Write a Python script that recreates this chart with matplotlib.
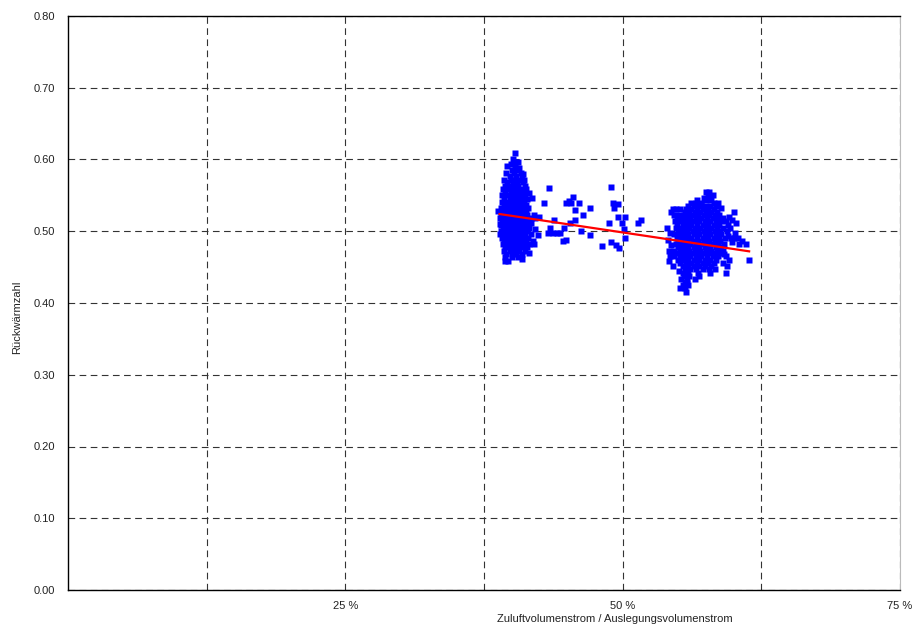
import numpy as np
import matplotlib.pyplot as plt
from matplotlib.ticker import MultipleLocator, FuncFormatter

plt.rcParams['font.family'] = ['Liberation Sans', 'DejaVu Sans']

# Cluster um 40 % (Zeilen: Rückwärmzahl, zugehörige x-Werte in %)
c1_row_y = [0.609, 0.601, 0.597, 0.591, 0.586, 0.581, 0.577, 0.572, 0.568, 0.563,
            0.559, 0.554, 0.550, 0.545, 0.541, 0.536, 0.532, 0.527, 0.523, 0.518,
            0.514, 0.509, 0.505, 0.500, 0.496, 0.491, 0.487, 0.482, 0.478, 0.473,
            0.468, 0.464, 0.459]
c1_row_x = [
    [40.25], [40.1], [40.4, 40.6], [39.6, 40.3], [40.0, 40.5],
    [39.5, 40.2, 40.8], [39.8, 40.4, 40.9], [39.3, 39.9, 40.3, 40.7, 41.1],
    [39.6, 40.1, 40.5, 41.0], [39.4, 39.8, 40.2, 40.6, 41.2],
    [39.2, 39.7, 40.1, 40.5, 40.9, 41.3], [39.4, 39.9, 40.3, 40.7, 41.1],
    [39.1, 39.6, 40.0, 40.4, 40.8, 41.2], [39.3, 39.8, 40.2, 40.6, 41.0, 41.4],
    [39.1, 39.5, 39.9, 40.3, 40.7, 41.1], [39.3, 39.7, 40.1, 40.5, 40.9, 41.3],
    [39.0, 39.5, 39.9, 40.3, 40.7, 41.1, 41.5], [39.2, 39.7, 40.1, 40.5, 40.9, 41.3],
    [39.0, 39.4, 39.8, 40.2, 40.6, 41.0, 41.4, 42.0],
    [38.9, 39.3, 39.7, 40.1, 40.5, 40.9, 41.3, 41.7, 42.1],
    [39.1, 39.5, 39.9, 40.3, 40.7, 41.1, 41.5], [39.0, 39.3, 39.7, 40.1, 40.5, 40.9, 41.3],
    [39.2, 39.6, 40.0, 40.4, 40.8, 41.2, 41.6], [39.0, 39.4, 39.8, 40.2, 40.6, 41.0, 41.4],
    [39.2, 39.6, 40.0, 40.4, 40.8, 41.2, 41.7], [39.1, 39.5, 39.9, 40.3, 40.7, 41.1, 41.5],
    [39.3, 39.7, 40.1, 40.5, 40.9, 41.3, 41.9], [39.2, 39.6, 40.0, 40.4, 40.8, 41.2, 41.6, 42.0],
    [39.4, 39.8, 40.2, 40.6, 41.0, 41.4], [39.3, 39.8, 40.2, 40.7, 41.2],
    [39.5, 40.0, 40.4, 40.9], [39.4, 40.0, 40.6], [39.35],
]
# Randpunkte Cluster 1
c1_extra_x = [38.8, 38.9, 41.6, 41.8, 41.7, 41.6, 39.9, 40.7, 41.0, 39.7, 40.9, 38.9]
c1_extra_y = [0.528, 0.496, 0.553, 0.546, 0.512, 0.470, 0.594, 0.588, 0.580, 0.458, 0.462, 0.510]

# einzelne Punkte zwischen den Clustern
mid_x = [43.32, 48.92, 42.87, 44.85, 45.13, 45.49, 45.31, 46.03, 45.67, 47.02,
         49.10, 49.55, 49.19, 46.39, 49.55, 50.18, 51.35, 51.62, 42.42, 43.77,
         45.22, 45.67, 48.74, 49.91, 43.41, 42.06, 44.67, 46.21, 50.09, 43.23,
         43.68, 44.04, 44.31, 42.33, 47.02, 50.18, 44.58, 44.85, 48.92, 48.10,
         49.64, 49.37]
mid_y = [0.560, 0.562, 0.539, 0.539, 0.542, 0.548, 0.539, 0.539, 0.530, 0.533,
         0.539, 0.538, 0.532, 0.522, 0.520, 0.520, 0.512, 0.516, 0.520, 0.516,
         0.511, 0.516, 0.511, 0.512, 0.505, 0.503, 0.505, 0.500, 0.503, 0.498,
         0.498, 0.498, 0.498, 0.495, 0.495, 0.491, 0.486, 0.488, 0.485, 0.479,
         0.477, 0.481]

# Cluster um 57 %
c2_row_y = [0.555, 0.551, 0.546, 0.544, 0.539, 0.535, 0.531, 0.527, 0.522, 0.518,
            0.514, 0.509, 0.505, 0.500, 0.496, 0.491, 0.487, 0.482, 0.478, 0.473,
            0.469, 0.465, 0.460, 0.456, 0.451, 0.447, 0.442, 0.438, 0.434, 0.429,
            0.425, 0.421, 0.416]
c2_row_x = [
    [57.5, 57.8], [57.7, 58.1], [57.3, 57.9], [57.5, 58.0], [56.6, 57.1, 58.2],
    [55.9, 56.4, 56.9, 57.4, 57.9, 58.4],
    [54.5, 54.8, 55.2, 55.7, 56.2, 56.7, 57.2, 57.7, 58.2],
    [54.4, 55.6, 56.0, 56.5, 57.0, 57.5, 58.0, 58.5, 60.0],
    [54.6, 55.1, 55.5, 55.9, 56.3, 56.8, 57.3, 57.8, 58.3, 58.7],
    [54.9, 55.3, 55.7, 56.1, 56.6, 57.1, 57.6, 58.1, 58.6, 59.0],
    [54.7, 55.2, 55.6, 56.0, 56.4, 56.9, 57.4, 57.9, 58.4, 58.9, 59.3],
    [54.9, 55.4, 55.8, 56.2, 56.7, 57.2, 57.7, 58.2, 58.7, 59.5],
    [54.8, 55.2, 55.6, 56.0, 56.5, 57.0, 57.5, 58.0, 58.5, 59.0],
    [55.0, 55.4, 55.8, 56.3, 56.8, 57.3, 57.8, 58.3, 58.8, 59.4],
    [54.6, 55.1, 55.5, 55.9, 56.4, 56.9, 57.4, 57.9, 58.4, 58.9],
    [54.9, 55.3, 55.7, 56.2, 56.7, 57.2, 57.7, 58.2, 58.7, 59.2, 59.8, 60.0],
    [55.0, 55.4, 55.8, 56.3, 56.8, 57.3, 57.8, 58.3, 58.8, 60.8],
    [54.8, 55.2, 55.6, 56.1, 56.6, 57.1, 57.6, 58.1, 58.6, 59.1, 60.5, 61.1],
    [55.0, 55.4, 55.9, 56.4, 56.9, 57.4, 57.9, 58.4, 58.9],
    [54.2, 54.6, 55.2, 55.6, 56.0, 56.5, 57.0, 57.5, 58.0, 58.5, 59.0],
    [55.0, 55.4, 55.8, 56.3, 56.8, 57.3, 57.8, 58.3, 58.8],
    [54.3, 54.6, 55.2, 55.6, 56.1, 56.6, 57.1, 57.6, 58.1, 58.6, 59.3],
    [55.0, 55.4, 55.9, 56.4, 56.9, 57.4, 57.9, 58.4, 59.6, 61.4],
    [55.2, 55.7, 56.2, 56.7, 57.2, 57.7, 58.2, 59.0],
    [55.4, 55.9, 56.4, 56.9, 57.4, 58.0, 59.4],
    [55.6, 56.1, 56.6, 57.2, 57.8, 58.3],
    [55.4, 55.9, 56.8, 57.9, 59.3],
    [55.5, 56.0, 56.9], [55.3, 55.8, 56.5], [55.6], [55.4, 55.9], [55.2, 55.6], [55.7],
]
# Randpunkte Cluster 2
c2_extra_x = [59.6, 59.9, 60.2, 59.7, 60.1, 59.5, 59.9, 54.0, 54.3, 54.1, 54.4, 58.6, 58.9,
              56.2, 56.7, 57.1, 55.1, 55.8, 54.2, 54.5, 58.7, 59.1, 60.4]
c2_extra_y = [0.520, 0.516, 0.511, 0.504, 0.498, 0.494, 0.485, 0.505, 0.498, 0.488, 0.481, 0.540, 0.533,
              0.540, 0.543, 0.536, 0.445, 0.428, 0.458, 0.452, 0.473, 0.468, 0.490]

# Regressionsgerade
trend_x = [38.9, 61.4]
trend_y = [0.524, 0.472]

x_ticks = [12.5, 25, 37.5, 50, 62.5, 75]


def flatten(row_y, row_x):
	xs, ys = [], []
	for y, row in zip(row_y, row_x):
		xs += row
		ys += [y] * len(row)
	return xs, ys


c1_x, c1_y = flatten(c1_row_y, c1_row_x)
c2_x, c2_y = flatten(c2_row_y, c2_row_x)
all_x = c1_x + c1_extra_x + mid_x + c2_x + c2_extra_x
all_y = c1_y + c1_extra_y + mid_y + c2_y + c2_extra_y

fig = plt.figure(figsize=(9.15, 6.27), dpi=100)
ax = fig.add_axes([68/915, 37/627, 832/915, 574/627])

ax.plot(all_x, all_y, ls='none', marker='s', ms=4.2, mec='none', mfc='#0000ff')
ax.plot(trend_x, trend_y, c='#ff0000', lw=1.6)

ax.set_xlim(0, 75)
ax.set_ylim(0, 0.8)
ax.set_xticks(x_ticks)
ax.xaxis.set_major_formatter(FuncFormatter(lambda v, p: f"{v:.0f} %" if v % 25 == 0 else ""))
ax.yaxis.set_major_locator(MultipleLocator(0.1))
ax.yaxis.set_major_formatter(FuncFormatter(lambda v, p: f"{v:.2f}"))
ax.tick_params(length=0, labelsize=8, colors='#222222')
ax.tick_params(axis='y', pad=9)
ax.tick_params(axis='x', pad=8)
ax.grid(True, color='#333333', ls=(0, (6, 4)), lw=0.8)
ax.set_axisbelow(True)
for s in ['left', 'bottom', 'top']:
	ax.spines[s].set_linewidth(1.0)
	ax.spines[s].set_color('black')
ax.spines['right'].set_color('#bbbbbb')

fig.text(615/915, 1-619/627, "Zuluftvolumenstrom / Auslegungsvolumenstrom", ha='center', va='center', fontsize=8, color='#222222')
fig.text(17/915, 1-317/627, "Rückwärmzahl", ha='center', va='center', rotation=90, fontsize=8, color='#222222')

fig.savefig("out.png", dpi=100)
